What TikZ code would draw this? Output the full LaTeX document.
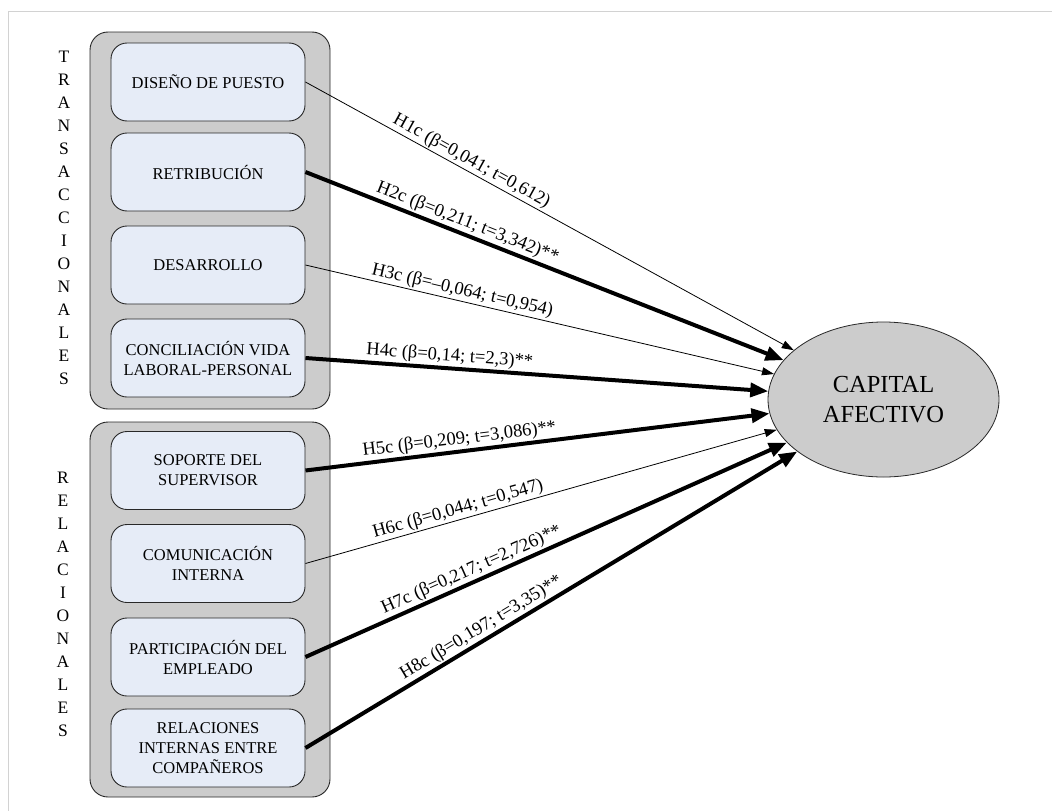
\documentclass[tikz,border=0pt]{standalone}
\usepackage{fontspec}
\setmainfont{Liberation Serif}
\usetikzlibrary{arrows.meta,shapes.geometric}

\definecolor{groupfill}{RGB}{204,204,204}
\definecolor{boxfill}{RGB}{230,236,247}
\definecolor{framegray}{RGB}{210,210,210}
\definecolor{edgegray}{RGB}{40,40,40}

\tikzset{
  groupbox/.style={draw=edgegray, line width=0.9pt, fill=groupfill, rounded corners=18pt,
    minimum width=240pt, minimum height=377pt, inner sep=0pt},
  itembox/.style={draw=edgegray, line width=0.9pt, fill=boxfill, rounded corners=16pt,
    minimum width=194pt, minimum height=78pt, inner sep=0pt, align=center,
    font=\fontsize{16.5}{20}\selectfont},
  target/.style={draw=edgegray, line width=0.8pt, fill=groupfill, ellipse,
    minimum width=231pt, minimum height=155pt, inner sep=0pt, align=center,
    font=\fontsize{24.5}{29.5}\selectfont},
  vertword/.style={align=center, font=\fontsize{17.5}{23}\selectfont, inner sep=0pt},
  weakpath/.style={line width=0.8pt, -{Triangle[length=12pt,width=8pt]}},
  strongpath/.style={line width=4pt, -{Triangle[length=18pt,width=14pt]}},
  hyp/.style={sloped, above, inner sep=1.5pt, font=\fontsize{18.5}{20}\selectfont}
}

\begin{document}
\begin{tikzpicture}[x=1pt,y=-1pt]
  \useasboundingbox (0,0) rectangle (1052,811);
  \fill[white] (0,0) rectangle (1052,811);

  % page frame
  \draw[framegray, line width=1pt] (8,811) -- (8,11) -- (1052,11);

  % group containers
  \node[groupbox] (gT) at (210,220.5) {};
  \node[groupbox, minimum height=375pt] (gR) at (210,609.5) {};

  % vertical group titles
  \node[vertword] (tT) at (64,218) {T\\R\\A\\N\\S\\A\\C\\C\\I\\O\\N\\A\\L\\E\\S};
  \node[vertword] (tR) at (63,604.5) {R\\E\\L\\A\\C\\I\\O\\N\\A\\L\\E\\S};

  % transactional practices
  \node[itembox] (b1) at (208,82) {DISEÑO DE PUESTO};
  \node[itembox] (b2) at (208,172) {RETRIBUCIÓN};
  \node[itembox] (b3) at (208,265) {DESARROLLO};
  \node[itembox] (b4) at (208,358) {CONCILIACIÓN VIDA\\LABORAL-PERSONAL};

  % relational practices
  \node[itembox] (b5) at (208,470.5) {SOPORTE DEL\\SUPERVISOR};
  \node[itembox] (b6) at (208,563.5) {COMUNICACIÓN\\INTERNA};
  \node[itembox] (b7) at (208,657) {PARTICIPACIÓN DEL\\EMPLEADO};
  \node[itembox] (b8) at (208,748) {RELACIONES\\INTERNAS ENTRE\\COMPAÑEROS};

  % outcome
  \node[target] (cap) at (883.5,399.5) {CAPITAL\\AFECTIVO};

  % hypotheses
  \draw[weakpath] (b1.east) -- node[hyp, pos=0.33] {H1c (β=0,041; t=0,612)} (cap);
  \draw[strongpath] (b2.east) -- node[hyp, pos=0.33] {H2c (β=0,211; t=3,342)**} (cap);
  \draw[weakpath] (b3.east) -- node[hyp, pos=0.33] {H3c (β=–0,064; t=0,954)} (cap);
  \draw[strongpath] (b4.east) -- node[hyp, pos=0.31] {H4c (β=0,14; t=2,3)**} (cap);
  \draw[strongpath] (b5.east) -- node[hyp, pos=0.335] {H5c (β=0,209; t=3,086)**} (cap);
  \draw[weakpath] (b6.east) -- node[hyp, pos=0.33] {H6c (β=0,044; t=0,547)} (cap);
  \draw[strongpath] (b7.east) -- node[hyp, pos=0.355] {H7c (β=0,217; t=2,726)**} (cap);
  \draw[strongpath] (b8.east) -- node[hyp, pos=0.37] {H8c (β=0,197; t=3,35)**} (cap);
\end{tikzpicture}
\end{document}
